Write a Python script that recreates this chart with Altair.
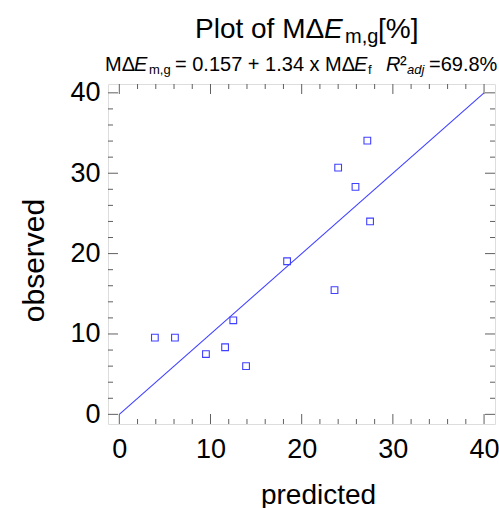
import altair as alt
import pandas as pd

# data
predicted = [3.9, 6.1, 9.5, 11.6, 12.5, 13.9, 18.4, 23.6, 24.0, 25.9, 27.2, 27.5]
observed = [9.55, 9.55, 7.5, 8.35, 11.7, 6.0, 19.05, 15.45, 30.7, 28.3, 34.05, 24.0]
fit_x = [0, 40]
fit_y = [0, 40]
major_ticks = [0, 10, 20, 30, 40]
minor_ticks = [2, 4, 6, 8, 12, 14, 16, 18, 22, 24, 26, 28, 32, 34, 36, 38]

W, H = 387, 340
XDOM = [-1.24, 41.2]
YDOM = [-1.2, 41.1]
BLUE = "#4040ff"
FRAME = "#606060"
SANS = "Liberation Sans, Arial, sans-serif"

pts = pd.DataFrame({"predicted": predicted, "observed": observed})
fit = pd.DataFrame({"predicted": fit_x, "observed": fit_y})
ticks = pd.DataFrame(
    {"v": major_ticks + minor_ticks,
     "len": [10] * len(major_ticks) + [5] * len(minor_ticks)}
)

xs = alt.Scale(domain=XDOM, nice=False, zero=False)
ys = alt.Scale(domain=YDOM, nice=False, zero=False)

xaxis = alt.Axis(values=major_ticks, ticks=False, domain=False, grid=False,
                 labelFont=SANS, labelFontSize=27, labelColor="black",
                 labelPadding=12, title="predicted", titleFont=SANS,
                 titleFontSize=28, titleFontWeight="normal", titleColor="black",
                 titleBaseline="alphabetic", titleY=79, titleX=210)
yaxis = alt.Axis(values=major_ticks, ticks=False, domain=False, grid=False,
                 labelFont=SANS, labelFontSize=27, labelColor="black",
                 labelPadding=8, title="observed", titleFont=SANS,
                 titleFontSize=30, titleFontWeight="normal", titleColor="black",
                 titleBaseline="alphabetic", titleX=-65, titleY=H / 2 + 6,
                 titleAngle=270, titleAlign="center")

points = alt.Chart(pts).mark_point(shape="square", filled=False, size=45,
                                   color=BLUE, strokeWidth=1.1, opacity=1).encode(
    x=alt.X("predicted:Q", scale=xs, axis=xaxis),
    y=alt.Y("observed:Q", scale=ys, axis=yaxis),
)

line = alt.Chart(fit).mark_line(color=BLUE, strokeWidth=1.1).encode(
    x=alt.X("predicted:Q", scale=xs),
    y=alt.Y("observed:Q", scale=ys),
)

tick_base = alt.Chart(ticks)
bottom = tick_base.transform_calculate(p0=f"{H}", p1=f"{H} - datum.len").mark_rule(
    color=FRAME, strokeWidth=1).encode(
    x=alt.X("v:Q", scale=xs), y=alt.Y("p0:Q", scale=None), y2="p1:Q")
top = tick_base.transform_calculate(p0="0", p1="datum.len").mark_rule(
    color=FRAME, strokeWidth=1).encode(
    x=alt.X("v:Q", scale=xs), y=alt.Y("p0:Q", scale=None), y2="p1:Q")
left = tick_base.transform_calculate(p0="0", p1="datum.len").mark_rule(
    color=FRAME, strokeWidth=1).encode(
    y=alt.Y("v:Q", scale=ys), x=alt.X("p0:Q", scale=None), x2="p1:Q")
right = tick_base.transform_calculate(p0=f"{W}", p1=f"{W} - datum.len").mark_rule(
    color=FRAME, strokeWidth=1).encode(
    y=alt.Y("v:Q", scale=ys), x=alt.X("p0:Q", scale=None), x2="p1:Q")

# title and subtitle pieces
title_text = ["Plot of MΔ", "E", "m,g", " [%]"]
title_x = [87, 216, 237, 270]
title_y = [-46, -46, -41, -46]
title_size = [28, 28, 20, 28]
title_style = ["normal", "italic", "normal", "normal"]

sub_text = ["MΔ", "E", "m,g", "= 0.157 + 1.34 x MΔ", "E", "f", "R", "²", "adj", "=69.8%"]
sub_x = [-3, 26, 41, 67, 246, 260, 278, 292, 299, 321]
sub_y = [-13, -13, -10, -13, -13, -10, -13, -13, -10, -13]
sub_size = [20, 20, 13, 20, 20, 13, 20, 20, 13, 20]
sub_style = ["normal", "italic", "normal", "normal", "italic", "normal", "italic",
             "normal", "italic", "normal"]

tdf = pd.DataFrame({"t": title_text, "x": title_x, "y": title_y,
                    "s": title_size, "st": title_style})
sdf = pd.DataFrame({"t": sub_text, "x": sub_x, "y": sub_y,
                    "s": sub_size, "st": sub_style})


def text_layer(df, style):
    return alt.Chart(df).transform_filter(f"datum.st == '{style}'").mark_text(
        align="left", baseline="alphabetic", font=SANS, fontStyle=style,
        color="black").encode(
        x=alt.X("x:Q", scale=None), y=alt.Y("y:Q", scale=None),
        text="t:N", size=alt.Size("s:Q", scale=None, legend=None))


chart = alt.layer(
    line, points, bottom, top, left, right,
    text_layer(tdf, "normal"), text_layer(tdf, "italic"),
    text_layer(sdf, "normal"), text_layer(sdf, "italic"),
).properties(
    width=W, height=H,
    padding={"left": 108, "top": 84, "right": 4, "bottom": 84},
    autosize=alt.AutoSizeParams(type="none"),
).configure_view(stroke=FRAME, strokeWidth=1.2).configure(background="white")

chart.save("out.html", embed_options={"renderer": "svg", "actions": False})
